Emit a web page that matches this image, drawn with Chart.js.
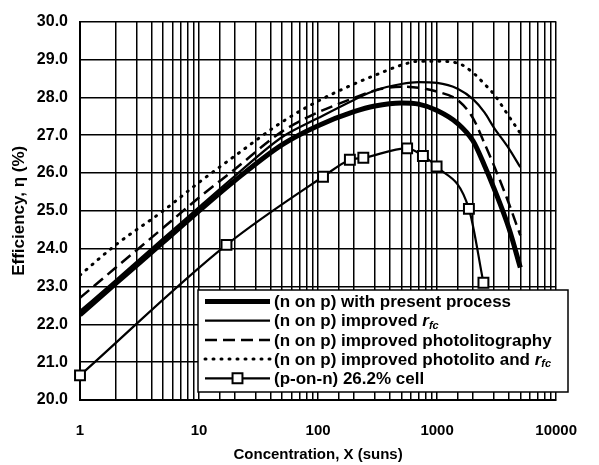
<!DOCTYPE html>
<html>
<head>
<meta charset="utf-8">
<script src="https://cdn.jsdelivr.net/npm/chart.js@4"></script>
<style>
  html, body { margin: 0; padding: 0; background: #fff; }
  canvas { display: block; }
</style>
</head>
<body>
<canvas id="chart" width="599" height="465"></canvas>
<script>
// concentracion (soles) para las curvas del modelo
const xModel = [1, 2, 5, 10, 20, 50, 100, 200, 300, 500, 700, 1000, 1500, 2000, 2500, 3000, 4000, 5000];

// eficiencias (%)
const presentProcess = [22.25, 23.08, 24.17, 25.0, 25.8, 26.75, 27.25, 27.62, 27.77, 27.85, 27.82, 27.65, 27.3, 26.85, 26.2, 25.6, 24.55, 23.5];
const improvedRfc = [22.35, 23.17, 24.27, 25.1, 25.92, 26.95, 27.45, 27.93, 28.18, 28.35, 28.4, 28.38, 28.22, 27.95, 27.6, 27.2, 26.65, 26.15];
const improvedPhoto = [22.7, 23.5, 24.55, 25.35, 26.1, 27.1, 27.6, 27.98, 28.18, 28.28, 28.25, 28.15, 27.92, 27.45, 26.78, 26.2, 25.2, 24.35];
const improvedBoth = [23.3, 24.1, 25.0, 25.75, 26.45, 27.35, 27.9, 28.35, 28.58, 28.85, 28.95, 28.95, 28.9, 28.65, 28.35, 28.08, 27.5, 27.05];

// celda p-on-n medida (marcadores)
const xCell = [1, 17, 110, 185, 240, 560, 760, 990, 1850, 2450];
const cellEff = [20.65, 24.1, 25.9, 26.35, 26.4, 26.65, 26.45, 26.17, 25.05, 23.1];

const seriesNames = [
    '(n on p) with present process',
    '(n on p) improved r_fc',
    '(n on p) improved photolitography',
    '(n on p) improved photolito and r_fc',
    '(p-on-n) 26.2% cell'
];
const xTickLabels = [1, 10, 100, 1000, 10000];
const yTicks = [20, 21, 22, 23, 24, 25, 26, 27, 28, 29, 30];

const FONT = "'Liberation Sans', Arial, sans-serif";
const toPoints = (xs, ys) => xs.map((x, i) => ({ x: x, y: ys[i] }));

// leyenda dibujada dentro del area del grafico
const insideLegend = {
    id: 'insideLegend',
    afterDraw(chart) {
        const ctx = chart.ctx;
        const box = { x: 198, y: 290, w: 370, h: 102 };
        ctx.save();
        ctx.fillStyle = '#fff';
        ctx.fillRect(box.x, box.y, box.w, box.h);
        ctx.strokeStyle = '#000';
        ctx.lineWidth = 1.5;
        ctx.setLineDash([]);
        ctx.strokeRect(box.x, box.y, box.w, box.h);

        chart.data.datasets.forEach((ds, i) => {
            const y = 301.5 + i * 19.2;
            ctx.beginPath();
            ctx.setLineDash(ds.borderDash || []);
            ctx.lineCap = ds.borderCapStyle || 'butt';
            ctx.lineWidth = ds.borderWidth;
            ctx.strokeStyle = '#000';
            ctx.moveTo(205, y);
            ctx.lineTo(270, y);
            ctx.stroke();
            ctx.setLineDash([]);
            ctx.lineCap = 'butt';
            if (ds.pointRadius) {
                ctx.fillStyle = '#fff';
                ctx.lineWidth = ds.pointBorderWidth;
                Chart.helpers.drawPoint(ctx, { pointStyle: 'rect', radius: ds.pointRadius, rotation: 0, borderWidth: ds.pointBorderWidth }, 237.5, y);
            }

            // texto, con r_fc en cursiva y subindice
            const parts = ds.label.split('r_fc');
            ctx.fillStyle = '#000';
            ctx.textBaseline = 'middle';
            ctx.textAlign = 'left';
            ctx.font = 'bold 17px ' + FONT;
            let tx = 274;
            ctx.fillText(parts[0], tx, y + 1);
            tx += ctx.measureText(parts[0]).width;
            if (parts.length > 1) {
                ctx.font = 'italic bold 17px ' + FONT;
                ctx.fillText('r', tx, y + 1);
                tx += ctx.measureText('r').width;
                ctx.font = 'italic bold 11px ' + FONT;
                ctx.fillText('fc', tx, y + 5);
            }
        });
        ctx.restore();
    }
};

const ctx = document.getElementById('chart').getContext('2d');
new Chart(ctx, {
    type: 'line',
    data: {
        datasets: [
            {
                label: seriesNames[0],
                data: toPoints(xModel, presentProcess),
                borderColor: '#000',
                borderWidth: 5,
                pointRadius: 0
            },
            {
                label: seriesNames[1],
                data: toPoints(xModel, improvedRfc),
                borderColor: '#000',
                borderWidth: 2.2,
                pointRadius: 0
            },
            {
                label: seriesNames[2],
                data: toPoints(xModel, improvedPhoto),
                borderColor: '#000',
                borderWidth: 2.5,
                borderDash: [12, 6],
                pointRadius: 0
            },
            {
                label: seriesNames[3],
                data: toPoints(xModel, improvedBoth),
                borderColor: '#000',
                borderWidth: 3,
                borderDash: [1, 7],
                borderCapStyle: 'round',
                pointRadius: 0
            },
            {
                label: seriesNames[4],
                data: toPoints(xCell, cellEff),
                borderColor: '#000',
                borderWidth: 2.2,
                pointStyle: 'rect',
                pointRadius: 7,
                pointBorderWidth: 2,
                pointBackgroundColor: '#fff',
                pointBorderColor: '#000',
                clip: false
            }
        ]
    },
    options: {
        responsive: false,
        devicePixelRatio: 1,
        animation: false,
        cubicInterpolationMode: 'monotone',
        layout: { padding: { left: 0, right: 21, top: 15, bottom: 0 } },
        plugins: {
            legend: { display: false },
            tooltip: { enabled: false }
        },
        scales: {
            x: {
                type: 'logarithmic',
                min: 1,
                max: 10000,
                afterFit: s => { s.height = 65; },
                grid: { color: '#000', lineWidth: 1.5, drawTicks: false },
                border: { color: '#000', width: 2 },
                ticks: {
                    autoSkip: false,
                    maxRotation: 0,
                    padding: 22,
                    color: '#000',
                    font: { family: FONT, size: 15, weight: 'bold' },
                    callback: v => xTickLabels.includes(v) ? String(v) : ''
                },
                title: {
                    display: true,
                    text: 'Concentration, X (suns)',
                    color: '#000',
                    font: { family: FONT, size: 15, weight: 'bold' },
                    padding: { top: 0, bottom: 1 }
                }
            },
            y: {
                min: 20,
                max: 30,
                afterFit: s => { s.width = 80; },
                afterBuildTicks: s => { s.ticks = yTicks.map(v => ({ value: v })); },
                grid: { color: '#000', lineWidth: 1.5, drawTicks: false },
                border: { color: '#000', width: 2 },
                ticks: {
                    padding: 12,
                    color: '#000',
                    font: { family: FONT, size: 16, weight: 'bold' },
                    callback: v => v.toFixed(1)
                },
                title: {
                    display: true,
                    text: 'Efficiency, η (%)',
                    color: '#000',
                    font: { family: FONT, size: 17, weight: 'bold' },
                    padding: { top: 9, bottom: 0 }
                }
            }
        }
    },
    plugins: [insideLegend]
});
</script>
</body>
</html>
